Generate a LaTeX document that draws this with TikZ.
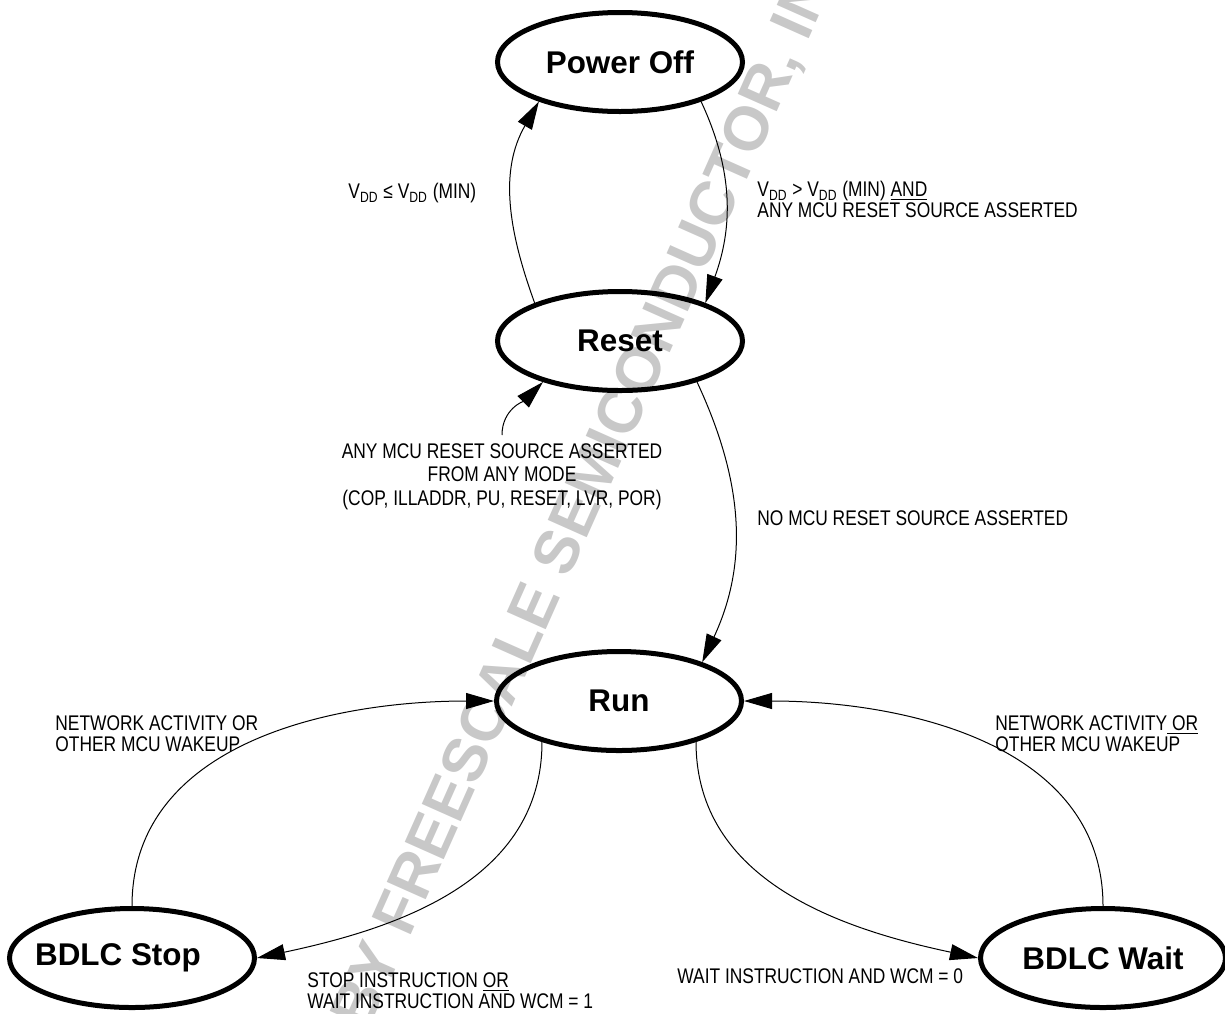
\documentclass[tikz,border=0pt]{standalone}
\usepackage{fontspec}
\setmainfont{Liberation Sans}
\newfontfamily\narrowfont{Liberation Sans}[FakeStretch=0.82]
\usetikzlibrary{arrows.meta, positioning, shapes.geometric}
\definecolor{stampgray}{RGB}{200,200,200}

\begin{document}
\begin{tikzpicture}[
  x=0.5pt, y=-0.5pt,
  mode/.style = {
    ellipse, draw=black, line width=2.5pt,
    minimum width=122.5pt, minimum height=49.5pt, inner sep=0pt,
    font=\fontsize{15.7}{18}\selectfont\bfseries
  },
  note/.style = {
    font=\narrowfont\fontsize{10.6}{10.5}\selectfont,
    inner sep=0pt, align=left
  },
  arr/.style = {-{Triangle[length=14pt, width=8pt]}, line width=0.5pt}
]
\useasboundingbox (0,0) rectangle (1225,1013);
% archive stamp
\node[rotate=66, text=stampgray, font=\fontsize{31}{33}\selectfont\bfseries]
  (stamp) at (528,630) {ARCHIVED BY FREESCALE SEMICONDUCTOR, INC.};

\node[mode] (poweroff) at (620,62)  {Power Off};
\node[mode] (reset)    at (620,341) {Reset};
\node[mode] (run)      at (619,701) {Run};
\node[mode] (bdlcstop) at (132,958) {\makebox[0pt]{BDLC Stop\hspace*{14pt}}};
\node[mode] (bdlcwait) at (1103,958) {BDLC Wait};

\node[note, anchor=north west] (vddlow) at (348,183)
  {V\textsubscript{DD} ≤ V\textsubscript{DD} (MIN)};
\node[note, anchor=north west] (vddhigh) at (757,181)
  {V\textsubscript{DD} > V\textsubscript{DD} (MIN) \underline{AND}\\ANY MCU RESET SOURCE ASSERTED};
\node[note, align=center, anchor=north, font=\narrowfont\fontsize{10.6}{11.7}\selectfont]
  (anyreset) at (502,443)
  {ANY MCU RESET SOURCE ASSERTED\\FROM ANY MODE\\(COP, ILLADDR, PU, RESET, LVR, POR)};
\node[note, anchor=west] (noreset) at (757,518) {NO MCU RESET SOURCE ASSERTED};
\node[note, anchor=north west] (wakestop) at (55,715) {NETWORK ACTIVITY OR\\OTHER MCU WAKEUP};
\node[note, anchor=north west] (wakewait) at (995,715) {NETWORK ACTIVITY\underline{ OR}\\OTHER MCU WAKEUP};
\node[note, anchor=north west, font=\narrowfont\fontsize{10.6}{8.7}\selectfont]
  (gostop) at (307,972) {STOP INSTRUCTION \underline{OR}\\WAIT INSTRUCTION AND WCM = 1};
\node[note, anchor=north west] (gowait) at (677,968) {WAIT INSTRUCTION AND WCM = 0};

\coordinate (anysrc) at (502,435);

\draw[arr] (reset.156) to[out=110, in=240] (poweroff.206);
\draw[arr] (poweroff.-26) to[out=-65, in=70] (reset.24);
\draw[arr] (anysrc) to[out=90, in=225] (reset.208);
\draw[arr] (reset.-28) to[out=-65, in=65] (run.25);
\draw[arr] (run.-152) to[out=-90, in=12] (bdlcstop.east);
\draw[arr] (bdlcstop.north) to[out=90, in=180] (run.west);
\draw[arr] (run.-28) to[out=-90, in=168] (bdlcwait.west);
\draw[arr] (bdlcwait.north) to[out=90, in=0] (run.east);
\end{tikzpicture}
\end{document}
